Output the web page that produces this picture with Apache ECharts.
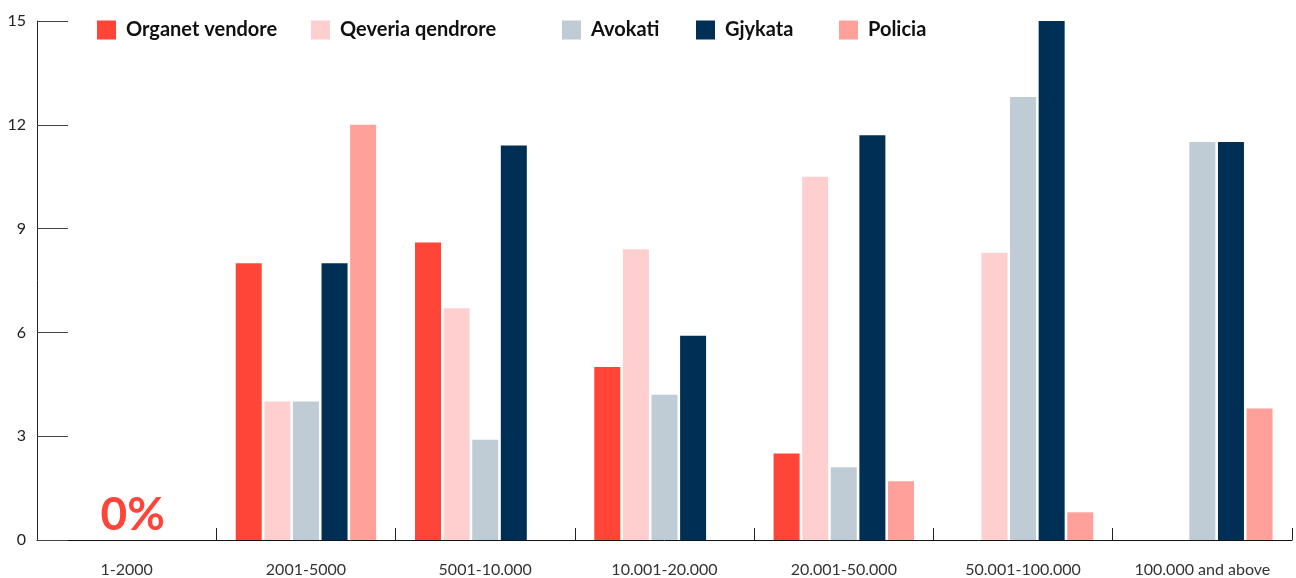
<!DOCTYPE html>
<html>
<head>
<meta charset="utf-8">
<script src="https://cdn.jsdelivr.net/npm/echarts@6/dist/echarts.min.js"></script>
<style>
html,body{margin:0;padding:0;background:#fff;}
#chart{width:1296px;height:578px;}
</style>
</head>
<body>
<div id="chart"></div>
<script>
const categories = ['1-2000', '2001-5000', '5001-10.000', '10.001-20.000', '20.001-50.000', '50.001-100.000', '100.000 and above'];
const seriesNames = ['Organet vendore', 'Qeveria qendrore', 'Avokati', 'Gjykata', 'Policia'];
const organetVendore = [0, 8, 8.6, 5, 2.5, 0, 0];
const qeveriaQendrore = [0, 4, 6.7, 8.4, 10.5, 8.3, 0];
const avokati = [0, 4, 2.9, 4.2, 2.1, 12.8, 11.5];
const gjykata = [0, 8, 11.4, 5.9, 11.7, 15, 11.5];
const policia = [0, 12, 0, 0, 1.7, 0.8, 3.8];
const yTicks = [0, 3, 6, 9, 12, 15];
const zeroLabel = '0%';

const colors = ['#ff4438', '#ffcfcf', '#bfccd5', '#002f56', '#ffa19a'];
const values = [organetVendore, qeveriaQendrore, avokati, gjykata, policia];
const legendLefts = [92, 306, 557, 691, 834];

const chart = echarts.init(document.getElementById('chart'));
const font = 'Lato, "Open Sans", sans-serif';

const option = {
  animation: false,
  backgroundColor: '#ffffff',
  textStyle: { fontFamily: font },
  grid: { left: 37, right: 4, top: 21, bottom: 35, containLabel: false },
  legend: seriesNames.map((n, i) => ({
    data: [n],
    left: legendLefts[i],
    top: 15,
    itemWidth: 19,
    itemHeight: 19,
    itemGap: 10,
    icon: 'rect',
    textStyle: { fontFamily: font, fontWeight: 'bold', fontSize: 20, color: '#111', padding: [0, 0, 0, 5] }
  })),
  xAxis: {
    type: 'category',
    data: categories,
    axisLine: { lineStyle: { color: '#111', width: 1 } },
    axisTick: { show: true, inside: true, length: 12, lineStyle: { color: '#222' } },
    axisLabel: { color: '#333', fontSize: 16, fontFamily: font, margin: 22 }
  },
  yAxis: {
    type: 'value',
    min: yTicks[0],
    max: yTicks[yTicks.length - 1],
    interval: 3,
    axisLine: { show: true, lineStyle: { color: '#222', width: 1 } },
    axisTick: { show: true, inside: true, length: 31, lineStyle: { color: '#444' } },
    splitLine: { show: false },
    axisLabel: { color: '#222', fontSize: 16, fontFamily: font, margin: 11 }
  },
  series: seriesNames.map((n, i) => ({
    name: n,
    type: 'bar',
    data: values[i],
    barWidth: 26,
    barGap: '10%',
    itemStyle: { color: colors[i] }
  })),
  graphic: []
};
chart.setOption(option);

const p = chart.convertToPixel({ xAxisIndex: 0, yAxisIndex: 0 }, [categories[0], 0]);
chart.setOption({
  graphic: [{
    type: 'text',
    x: p[0] + 6,
    y: p[1] - 25,
    style: {
      text: zeroLabel,
      fill: '#ff4438',
      font: 'bold 46px ' + font,
      textAlign: 'center',
      textVerticalAlign: 'middle'
    }
  }]
});
</script>
</body>
</html>
